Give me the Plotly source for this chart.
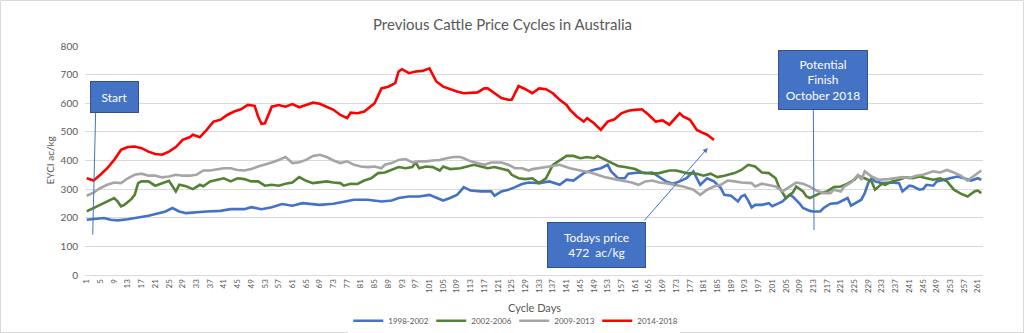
import plotly.graph_objects as go

# ---- data ----
days_9802 = [1,3,6,8,10,13,16,19,22,24,26,28,30,33,36,40,43,47,49,52,55,58,61,64,66,69,73,76,79,83,87,90,92,95,98,101,103,105,107,109,110,111,113,116,119,120,122,124,126,128,130,133,136,139,141,143,146,149,151,153,154,156,158,159,162,164,166,168,170,172,174,176,178,179,180,182,184,186,187,189,191,192,193,194,195,196,198,200,201,203,204,206,207,209,210,212,213,215,216,218,220,222,223,224,225,227,228,229,230,231,233,235,236,238,239,241,242,244,245,246,248,249,251,253,255,257,259,261,262]
vals_9802 = [193,195,199,193,191,195,201,207,216,222,234,222,216,220,222,224,230,230,237,230,237,248,242,251,248,245,249,257,263,263,257,260,269,274,274,280,269,260,269,280,292,307,295,292,292,277,292,298,307,318,323,321,327,315,333,330,356,368,373,385,362,338,338,354,358,356,358,344,327,319,327,338,362,338,315,338,327,304,280,277,257,274,280,260,236,245,245,251,240,251,257,280,274,249,234,224,222,222,234,249,251,263,269,242,249,263,286,321,338,327,321,323,323,321,292,312,310,298,300,315,312,327,333,338,344,338,330,338,333]

days_0206 = [1,3,5,7,9,10,11,12,14,15,16,17,19,21,23,25,27,28,30,32,34,35,37,39,41,43,45,47,49,51,53,55,57,59,61,63,65,67,69,71,73,75,76,78,80,82,84,86,88,90,92,94,96,97,98,100,102,104,105,107,110,112,114,116,118,120,122,124,125,127,129,131,133,135,137,139,141,143,145,147,149,150,152,154,156,158,161,163,166,168,171,173,176,179,181,183,185,187,190,192,194,196,198,200,202,203,205,207,208,210,211,212,214,215,217,219,221,223,225,226,228,230,231,233,234,236,238,240,242,244,246,248,250,252,254,256,258,260,261,262]
vals_0206 = [222,234,245,257,269,257,240,245,265,280,321,327,327,312,321,329,292,315,310,300,315,310,327,333,338,327,338,335,327,327,312,315,312,319,323,342,329,321,323,327,323,321,312,319,318,330,338,356,358,367,377,373,377,393,373,379,377,365,379,370,373,379,385,379,373,377,370,365,350,338,335,338,321,338,385,402,416,416,408,412,408,416,405,393,381,377,370,358,354,356,365,365,356,354,347,354,342,347,356,367,385,379,358,356,338,307,269,288,309,292,274,269,280,286,292,307,309,319,333,347,338,327,298,319,315,327,333,341,338,344,338,333,338,327,298,284,274,292,295,286]

days_0913 = [1,3,5,7,9,11,13,15,17,19,21,23,25,27,29,31,33,35,37,39,41,43,45,47,49,51,53,55,57,59,60,61,63,65,67,69,71,73,75,77,79,81,83,85,87,88,90,92,94,96,98,100,102,104,106,108,110,111,113,115,117,119,122,124,126,128,130,131,133,136,139,142,145,148,150,152,155,157,160,162,164,166,168,170,173,175,178,180,182,184,186,188,190,192,195,196,198,200,202,204,206,208,210,212,214,216,218,219,221,222,224,225,226,227,228,230,232,235,237,239,241,243,245,247,248,250,252,254,256,258,260,262]
vals_0913 = [277,288,304,315,323,321,338,350,354,347,347,341,344,350,347,347,350,365,365,370,373,373,367,365,370,379,385,393,402,412,402,391,394,402,416,420,412,400,391,397,385,379,377,379,373,385,391,402,405,393,397,397,400,402,408,412,412,408,397,391,385,393,393,385,373,373,365,370,373,379,385,373,365,358,350,342,335,330,323,315,327,330,323,321,315,309,298,280,298,309,315,330,327,323,321,309,319,315,309,292,307,323,319,309,294,286,286,298,292,309,323,338,350,333,362,344,333,335,338,342,338,347,350,358,362,358,367,358,347,330,347,365]

days_1418 = [1,3,5,7,9,11,13,15,17,19,21,23,25,27,29,31,32,34,36,38,40,42,44,46,48,50,51,52,53,54,55,57,59,61,63,65,67,69,71,73,75,77,78,80,82,85,87,89,91,92,93,95,97,99,101,103,105,107,109,111,113,115,117,118,120,122,124,125,127,129,131,133,135,137,139,141,142,144,146,147,149,151,153,155,157,159,161,163,165,167,169,171,174,175,177,179,181,182,183,184]
vals_1418 = [338,330,350,373,402,437,447,449,443,431,423,420,431,447,472,481,490,481,507,536,542,559,571,579,594,591,554,528,530,559,588,594,588,597,586,594,602,598,588,577,559,548,567,565,571,600,652,658,670,711,719,705,711,713,722,676,658,649,641,635,637,638,652,652,635,618,612,612,660,649,635,652,649,635,612,594,577,554,536,548,530,507,536,544,565,574,577,579,559,536,540,525,565,554,542,507,495,490,481,472]

series = [
    ("1998-2002", days_9802, vals_9802, "#4472C4"),
    ("2002-2006", days_0206, vals_0206, "#548235"),
    ("2009-2013", days_0913, vals_0913, "#A5A5A5"),
    ("2014-2018", days_1418, vals_1418, "#FF0000"),
]

tick_days = list(range(1, 262, 4))
y_ticks = list(range(0, 801, 100))

FONT = "Lato"
GREY = "#595959"
BOX = "#4472C4"

fig = go.Figure()
for name, xs, ys, col in series:
    fig.add_trace(go.Scatter(x=xs, y=ys, mode="lines", name=name,
                             line=dict(color=col, width=2.6)))

fig.update_layout(
    width=1024, height=333,
    margin=dict(l=85, r=41, t=46, b=58, autoexpand=False),
    paper_bgcolor="white", plot_bgcolor="white",
    font=dict(family=FONT, color=GREY),
    title=dict(text="Previous Cattle Price Cycles in Australia",
               x=0.4907, xanchor="center", y=0.926, yanchor="middle",
               font=dict(family=FONT, size=15, color=GREY)),
    showlegend=True,
    legend=dict(orientation="h", x=0.478, xanchor="center", y=-0.20, yanchor="middle",
                font=dict(family=FONT, size=8, color=GREY),
                itemwidth=30, entrywidth=38, tracegroupgap=0),
    xaxis=dict(range=[0.5, 262.5], tickmode="array", tickvals=tick_days,
               ticktext=[str(d) for d in tick_days], tickangle=-90,
               tickfont=dict(family=FONT, size=8, color=GREY),
               showgrid=False, zeroline=False, showline=True, automargin=False,
               linecolor="#D9D9D9", linewidth=1, ticks=""),
    yaxis=dict(range=[0, 800], tickvals=y_ticks, gridcolor="#D9D9D9",
               gridwidth=1, zeroline=False, showline=False, ticks="", automargin=False,
               tickfont=dict(family=FONT, size=10, color=GREY),
               ticklabelstandoff=6),
)

# axis titles
fig.add_annotation(text="EYCI ac/kg", xref="paper", yref="paper", x=-0.039, y=0.50,
                   xanchor="center", yanchor="middle",
                   textangle=-90, showarrow=False, font=dict(family=FONT, size=10, color=GREY))
fig.add_annotation(text="Cycle Days", xref="paper", yref="paper", x=0.501, y=-0.14,
                   xanchor="center", yanchor="middle",
                   showarrow=False, font=dict(family=FONT, size=11, color=GREY))

# call-out lines
fig.add_shape(type="line", x0=3.6, y0=566, x1=2.75, y1=141, xref="x", yref="y",
              line=dict(color=BOX, width=1))
fig.add_shape(type="line", x0=213, y0=577, x1=213.2, y1=157, xref="x", yref="y",
              line=dict(color=BOX, width=1))
# arrow to today's price
fig.add_annotation(x=182.2, y=444, ax=163.3, ay=185, xref="x", yref="y",
                   axref="x", ayref="y", text="", showarrow=True,
                   arrowhead=2, arrowsize=1, arrowwidth=1, arrowcolor=BOX)

# call-out boxes
fig.add_annotation(text="Start", x=9.1, y=622, xref="x", yref="y", showarrow=False,
                   width=47, height=30, bgcolor=BOX, bordercolor="#2F528F",
                   borderwidth=1, borderpad=0, font=dict(family=FONT, size=12, color="white"))
fig.add_annotation(text="Potential<br>Finish<br>October 2018", x=215.8, y=682,
                   xref="x", yref="y", showarrow=False, width=88, height=58,
                   bgcolor=BOX, bordercolor="#2F528F", borderwidth=1, borderpad=0,
                   font=dict(family=FONT, size=12, color="white"))
fig.add_annotation(text="Todays price<br>472  ac/kg", x=149.7, y=105,
                   xref="x", yref="y", showarrow=False, width=97, height=44,
                   bgcolor=BOX, bordercolor="#2F528F", borderwidth=1, borderpad=0,
                   font=dict(family=FONT, size=12, color="white"))

# chart border
fig.add_shape(type="rect", xref="paper", yref="paper",
              x0=(0.5 - 85) / 898, x1=(1023.5 - 85) / 898,
              y0=(275 - 332.5) / 229, y1=(275 - 0.5) / 229,
              line=dict(color="#D9D9D9", width=1), fillcolor="rgba(0,0,0,0)", layer="below")

fig.write_html("out.html")
